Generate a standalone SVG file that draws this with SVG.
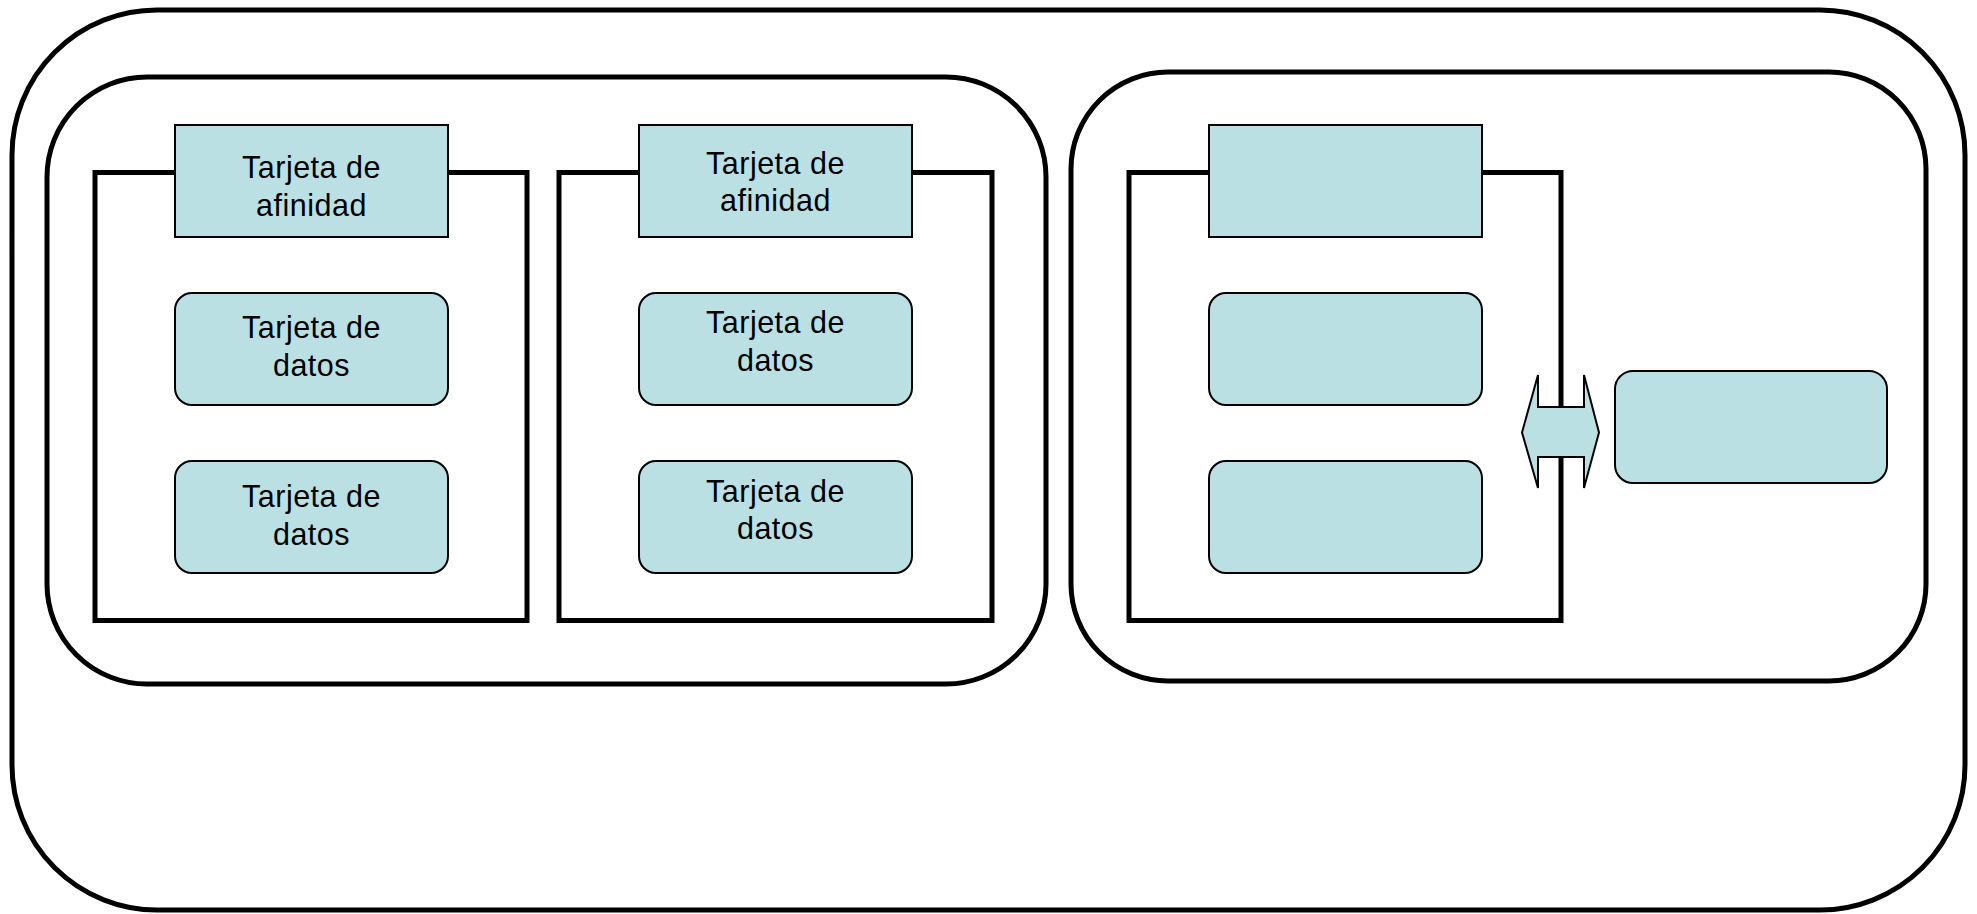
<svg xmlns="http://www.w3.org/2000/svg" width="1977" height="914" viewBox="0 0 1977 914">
  <style>
    .frame { fill: none; stroke: #000; stroke-width: 5; }
    .slot { fill: none; stroke: #000; stroke-width: 5; }
    .card { fill: #BBE0E3; stroke: #000; stroke-width: 2; }
    .label { font-family: "Liberation Sans", Arial, sans-serif; font-size: 30.5px; letter-spacing: 0.5px; fill: #000; text-anchor: middle; }
  </style>
  <rect width="1977" height="914" fill="#fff"/>

  <!-- enclosing frames -->
  <g id="outer-frame">
    <rect class="frame" x="12" y="10" width="1953" height="900" rx="145" ry="145"/>
  </g>
  <g id="left-group">
    <rect class="frame" x="47" y="77" width="999" height="607" rx="100" ry="100"/>
  </g>
  <g id="right-group">
    <rect class="frame" x="1071" y="72" width="855" height="609" rx="97" ry="97"/>
  </g>

  <!-- slot outlines -->
  <g id="slot-a"><rect class="slot" x="95" y="172.5" width="432" height="448"/></g>
  <g id="slot-b"><rect class="slot" x="559" y="172.5" width="433" height="448"/></g>
  <g id="slot-c"><rect class="slot" x="1129" y="172.5" width="432" height="448"/></g>

  <!-- column A -->
  <g id="affinity-a">
    <rect class="card" x="175" y="125" width="273" height="112"/>
    <text class="label" x="311.5" y="178">Tarjeta de</text>
    <text class="label" x="311.5" y="216">afinidad</text>
  </g>
  <g id="data-a1">
    <rect class="card" x="175" y="293" width="273" height="112" rx="17" ry="17"/>
    <text class="label" x="311.5" y="338">Tarjeta de</text>
    <text class="label" x="311.5" y="376">datos</text>
  </g>
  <g id="data-a2">
    <rect class="card" x="175" y="461" width="273" height="112" rx="17" ry="17"/>
    <text class="label" x="311.5" y="507">Tarjeta de</text>
    <text class="label" x="311.5" y="545">datos</text>
  </g>

  <!-- column B -->
  <g id="affinity-b">
    <rect class="card" x="639" y="125" width="273" height="112"/>
    <text class="label" x="775.5" y="174">Tarjeta de</text>
    <text class="label" x="775.5" y="211">afinidad</text>
  </g>
  <g id="data-b1">
    <rect class="card" x="639" y="293" width="273" height="112" rx="17" ry="17"/>
    <text class="label" x="775.5" y="333">Tarjeta de</text>
    <text class="label" x="775.5" y="371">datos</text>
  </g>
  <g id="data-b2">
    <rect class="card" x="639" y="461" width="273" height="112" rx="17" ry="17"/>
    <text class="label" x="775.5" y="502">Tarjeta de</text>
    <text class="label" x="775.5" y="539">datos</text>
  </g>

  <!-- column C (unlabelled) -->
  <g id="affinity-c"><rect class="card" x="1209" y="125" width="273" height="112"/></g>
  <g id="data-c1"><rect class="card" x="1209" y="293" width="273" height="112" rx="17" ry="17"/></g>
  <g id="data-c2"><rect class="card" x="1209" y="461" width="273" height="112" rx="17" ry="17"/></g>

  <!-- external card -->
  <g id="external-card">
    <rect class="card" x="1615" y="371" width="272" height="112" rx="18" ry="18"/>
  </g>

  <!-- connectors -->
  <g id="connectors">
    <polygon class="card" points="1522,432.5 1538,375 1538,407 1584,407 1584,375 1599,432.5 1584,488 1584,457 1538,457 1538,488"/>
  </g>
</svg>
